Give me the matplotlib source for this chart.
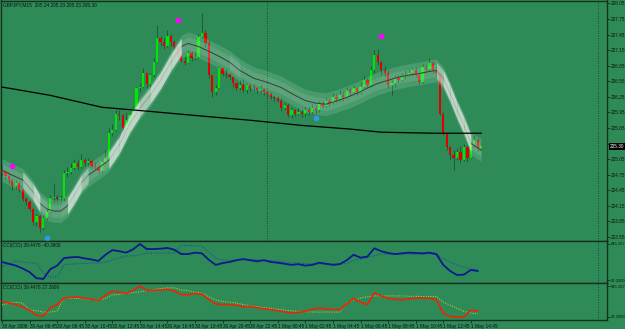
import matplotlib
matplotlib.use("Agg")
import matplotlib.pyplot as plt
import matplotlib.transforms as mtransforms
from matplotlib.patches import Rectangle
import numpy as np
import logging
logging.getLogger("matplotlib.font_manager").setLevel(logging.ERROR)

# ---------------- data ----------------
title_text = "GBPJPY,M15  205.24 205.33 205.23 205.30"
open_first = 204.84
close = [204.80, 204.72, 204.65, 204.53, 204.59, 204.45, 204.28, 204.22, 204.09, 203.84,
         203.95, 203.72, 203.92, 204.03, 204.30, 204.32, 204.28, 204.30, 204.78, 204.80,
         204.88, 204.97, 204.90, 205.03, 204.97, 205.01, 204.92, 204.90, 204.82, 204.99,
         205.07, 205.55, 205.61, 205.93, 205.90, 205.65, 205.80, 205.90, 206.01, 206.42,
         206.45, 206.72, 206.49, 206.67, 206.92, 207.38, 207.30, 207.24, 207.43, 207.30,
         207.22, 207.05, 206.95, 206.90, 207.09, 206.99, 207.01, 207.40, 207.49, 207.28,
         206.67, 206.34, 206.43, 206.80, 206.70, 206.67, 206.63, 206.51, 206.42, 206.47,
         206.38, 206.47, 206.42, 206.43, 206.38, 206.40, 206.34, 206.30, 206.24, 206.22,
         206.18, 206.03, 206.09, 205.90, 205.99, 205.93, 205.95, 205.92, 205.99, 205.95,
         206.03, 205.99, 206.11, 206.07, 206.17, 206.13, 206.24, 206.20, 206.28, 206.24,
         206.38, 206.34, 206.42, 206.34, 206.45, 206.57, 206.47, 206.76, 207.05, 206.92,
         206.76, 206.72, 206.47, 206.51, 206.61, 206.57, 206.65, 206.67, 206.72, 206.76,
         206.67, 206.53, 206.82, 206.78, 206.90, 206.76, 206.72, 205.93, 205.55, 205.28,
         205.13, 205.07, 205.18, 205.03, 205.28, 205.07, 205.32, 205.42, 205.26, 205.30]
high = [204.93, 204.84, 204.80, 204.68, 204.65, 204.61, 204.49, 204.32, 204.26, 204.11,
        203.99, 203.99, 203.97, 204.11, 204.36, 204.59, 204.36, 204.36, 204.84, 204.90,
        204.97, 205.05, 205.03, 205.15, 205.07, 205.07, 205.03, 204.97, 204.95, 205.07,
        205.22, 205.65, 205.72, 205.99, 205.99, 205.93, 205.95, 205.95, 206.07, 206.45,
        206.51, 206.80, 206.72, 206.72, 206.99, 207.63, 207.43, 207.38, 207.53, 207.47,
        207.34, 207.24, 207.03, 207.01, 207.15, 207.13, 207.11, 207.47, 207.86, 207.53,
        207.34, 206.68, 206.47, 206.84, 206.82, 206.78, 206.72, 206.63, 206.51, 206.57,
        206.59, 206.51, 206.49, 206.49, 206.45, 206.47, 206.42, 206.38, 206.34, 206.28,
        206.26, 206.22, 206.13, 206.13, 206.03, 206.01, 206.03, 205.99, 206.07, 206.05,
        206.11, 206.09, 206.18, 206.17, 206.24, 206.22, 206.32, 206.30, 206.38, 206.34,
        206.45, 206.43, 206.47, 206.45, 206.53, 206.65, 206.61, 206.84, 207.15, 207.18,
        206.95, 206.84, 206.76, 206.57, 206.67, 206.68, 206.72, 206.76, 206.78, 206.80,
        206.82, 206.68, 206.88, 206.86, 206.99, 206.95, 206.84, 206.72, 205.95, 205.55,
        205.30, 205.22, 205.26, 205.30, 205.34, 205.32, 205.36, 205.51, 205.45, 205.36]
low = [204.72, 204.67, 204.59, 204.45, 204.47, 204.42, 204.24, 204.17, 204.05, 203.78,
       203.76, 203.65, 203.68, 203.88, 203.99, 204.22, 204.22, 204.24, 204.24, 204.70,
       204.76, 204.86, 204.84, 204.88, 204.92, 204.92, 204.86, 204.84, 204.76, 204.78,
       204.95, 205.03, 205.49, 205.59, 205.80, 205.57, 205.65, 205.74, 205.93, 205.99,
       206.34, 206.45, 206.42, 206.42, 206.63, 206.92, 207.24, 207.18, 207.22, 207.24,
       207.18, 206.99, 206.92, 206.86, 206.95, 206.95, 206.97, 206.99, 207.38, 207.22,
       206.61, 206.24, 206.28, 206.42, 206.65, 206.61, 206.57, 206.45, 206.38, 206.38,
       206.34, 206.32, 206.36, 206.38, 206.32, 206.34, 206.28, 206.24, 206.20, 206.17,
       206.15, 205.97, 205.99, 205.86, 205.84, 205.88, 205.90, 205.86, 205.88, 205.90,
       205.92, 205.93, 205.95, 206.03, 206.05, 206.07, 206.11, 206.15, 206.17, 206.18,
       206.20, 206.28, 206.32, 206.28, 206.30, 206.42, 206.42, 206.45, 206.72, 206.86,
       206.67, 206.65, 206.42, 206.28, 206.45, 206.51, 206.55, 206.59, 206.65, 206.67,
       206.63, 206.49, 206.51, 206.72, 206.76, 206.72, 206.65, 205.90, 205.51, 205.22,
       205.03, 204.84, 205.03, 204.97, 205.01, 204.99, 205.07, 205.28, 205.20, 205.22]

ma_long_bars = [0, 14, 29, 43, 58, 72, 87, 101, 110, 125, 139]
ma_long = [206.44, 206.28, 206.05, 205.97, 205.88, 205.80, 205.70, 205.63, 205.57, 205.55, 205.55]

band_bars = [0, 3, 6, 9, 11, 13, 15, 17, 19, 21, 23, 25, 28, 31, 34, 37, 40, 43, 46, 49,
             52, 54, 57, 60, 63, 66, 69, 73, 77, 81, 85, 88, 91, 94, 97, 100, 103, 106, 109, 112,
             115, 118, 121, 124, 126, 128, 130, 132, 134, 136, 139]
band_mid = [204.84, 204.74, 204.65, 204.42, 204.20, 204.09, 204.05, 204.05, 204.15, 204.36,
            204.59, 204.74, 204.88, 205.03, 205.32, 205.72, 206.03, 206.28, 206.57, 206.92,
            207.22, 207.28, 207.22, 207.13, 207.03, 206.92, 206.76, 206.61, 206.53, 206.43,
            206.28, 206.18, 206.13, 206.11, 206.17, 206.24, 206.32, 206.42, 206.51, 206.57,
            206.63, 206.67, 206.70, 206.74, 206.76, 206.61, 206.32, 205.99, 205.70, 205.36,
            205.22]

top_sig_bars = [3, 51, 110]
top_sig_price = [204.92, 207.74, 207.42]
bot_sig_bars = [13, 91]
bot_sig_price = [203.53, 205.84]

price_ticks = [208.05, 207.75, 207.45, 207.15, 206.85, 206.55, 206.25, 205.95, 205.65,
               205.35, 205.05, 204.75, 204.45, 204.15, 203.85, 203.55]
price_tick_labels = ["208.05", "207.75", "207.45", "207.15", "206.85", "206.55", "206.25",
                     "205.95", "205.65", "205.35", "205.05", "204.75", "204.45", "204.15",
                     "203.85", "203.55"]
last_price_label = "205.30"

time_tick_bars = [0, 8, 16, 24, 32, 40, 48, 56, 64, 72, 80, 88, 96, 104, 112, 120, 128, 136]
time_tick_labels = ["30 Apr 2008", "30 Apr 06:45", "30 Apr 08:45", "30 Apr 10:45",
                    "30 Apr 12:45", "30 Apr 14:45", "30 Apr 16:45", "30 Apr 18:45",
                    "30 Apr 20:45", "30 Apr 22:45", "1 May 00:45", "1 May 02:45",
                    "1 May 04:45", "1 May 06:45", "1 May 08:45", "1 May 10:45",
                    "1 May 12:45", "1 May 14:45"]
day_separator_bar = 77
shift_bar = 172.9

ind_bars = list(range(0, 140, 2))
cci1_main = [333.7, 302.6, 271.5, 221.6, 159.3, 53.5, 41.0, 209.2, 271.5, 402.3,
             414.7, 420.9, 396.0, 377.3, 352.4, 458.3, 539.3, 520.6, 495.7, 551.7,
             645.157, 558.0, 558.0, 564.2, 576.6, 545.5, 470.8, 470.8, 495.7, 483.2,
             371.1, 283.9, 315.1, 333.7, 364.9, 383.6, 364.9, 346.2, 364.9, 333.7,
             321.3, 302.6, 283.9, 296.4, 271.5, 283.9, 321.3, 302.6, 283.9, 296.4,
             364.9, 458.3, 408.5, 427.2, 570.4, 520.6, 489.4, 470.8, 483.2, 495.7,
             489.4, 483.2, 495.7, 470.8, 283.9, 178.0, 109.5, 115.7, 196.7, 178.0]
cci1_sig = [246.5, 302.6, 352.4, 333.7, 315.1, 315.1, 146.9, 72.1, 72.1, 283.9,
            296.4, 302.6, 308.8, 315.1, 315.1, 333.7, 371.1, 408.5, 439.6, 439.6,
            458.3, 489.4, 489.4, 489.4, 489.4, 489.4, 626.5, 620.3, 614.0, 607.8,
            508.1, 396.0, 364.9, 364.9, 371.1, 377.3, 377.3, 371.1, 364.9, 358.7,
            346.2, 333.7, 321.3, 315.1, 308.8, 302.6, 302.6, 302.6, 302.6, 302.6,
            302.6, 364.9, 383.6, 408.5, 445.9, 470.8, 470.8, 470.8, 470.8, 470.8,
            470.8, 470.8, 470.8, 470.8, 396.0, 333.7, 283.9, 246.5, 209.2, 209.2]
cci2_main = [333.7, 302.6, 271.5, 221.6, 159.3, 53.5, 41.0, 209.2, 271.5, 402.3,
             414.7, 420.9, 396.0, 377.3, 352.4, 458.3, 539.3, 520.6, 495.7, 551.7,
             645.157, 558.0, 558.0, 564.2, 576.6, 545.5, 470.8, 470.8, 495.7, 483.2,
             371.1, 283.9, 271.5, 271.5, 259.0, 227.9, 234.1, 209.2, 184.3, 171.8,
             146.9, 122.0, 103.3, 115.7, 134.4, 178.0, 202.9, 184.3, 171.8, 165.6,
             283.9, 396.0, 321.3, 271.5, 508.1, 445.9, 396.0, 377.3, 364.9, 383.6,
             402.3, 402.3, 396.0, 371.1, 97.1, 34.8, 22.32, 28.5, 159.3, 140.7]
cci2_sig = [265.2, 296.4, 321.3, 302.6, 165.6, 146.9, 122.0, 122.0, 146.9, 402.3,
            396.0, 396.0, 383.6, 371.1, 364.9, 396.0, 464.5, 477.0, 495.7, 514.4,
            526.8, 551.7, 570.4, 595.3, 607.8, 607.8, 564.2, 551.7, 520.6, 501.9,
            427.2, 364.9, 333.7, 321.3, 302.6, 271.5, 246.5, 227.9, 209.2, 196.7,
            178.0, 159.3, 146.9, 134.4, 128.2, 122.0, 122.0, 122.0, 122.0, 122.0,
            302.6, 364.9, 402.3, 427.2, 445.9, 445.9, 445.9, 445.9, 445.9, 439.6,
            439.6, 433.4, 433.4, 433.4, 321.3, 259.0, 196.7, 134.4, 103.3, 84.6]
sub_ticks = [22.32, 645.157]
sub_tick_labels = ["22.3200", "645.157"]
sub1_title = "CCI(CCI) 39.4476 -40.3600"
sub2_title = "CCI(CCI) 39.4476 27.2609"

# ---------------- style ----------------
BG = "#2e8b57"
FRAME = "#15301f"
UP = "#00e600"
DN = "#e00000"
WICK = "#1f5a34"
TXT = "#0a140d"
FAM = ["Liberation Sans Narrow", "Liberation Sans", "DejaVu Sans"]
FS = 3.4
plt.rcParams["font.family"] = FAM

W, H = 625, 329
def rect(x0, y0, x1, y1):
    return [x0 / W, 1 - y1 / H, (x1 - x0) / W, (y1 - y0) / H]

fig = plt.figure(figsize=(W / 100, H / 100), dpi=100)
fig.patch.set_facecolor(BG)
ax = fig.add_axes(rect(0.5, 0.5, 607, 241))
ax1 = fig.add_axes(rect(0.5, 241, 607, 283), sharex=ax)
ax2 = fig.add_axes(rect(0.5, 283, 607, 320), sharex=ax)

for a in (ax, ax1, ax2):
    a.set_facecolor(BG)
    for s in a.spines.values():
        s.set_color(FRAME)
        s.set_linewidth(1.0)
    a.yaxis.tick_right()
    a.tick_params(axis="y", length=2, width=0.6, colors=FRAME, labelcolor=TXT,
                  labelsize=FS, pad=1, direction="out")
    a.tick_params(axis="x", length=2, width=0.6, colors=FRAME, labelcolor=TXT,
                  labelsize=FS, pad=1, direction="out")
    a.axvline(shift_bar, color=FRAME, lw=0.6, ls=(0, (1, 2)), zorder=1)

# ---------------- main chart ----------------
n = len(close)
opens = [open_first] + close[:-1]
xs = np.arange(n)
lo = np.minimum.reduce([np.array(low), np.array(opens), np.array(close)])
hi = np.maximum.reduce([np.array(high), np.array(opens), np.array(close)])
ax.vlines(xs, lo, hi, color=WICK, lw=0.7, zorder=2)
for i in range(n):
    o, c = opens[i], close[i]
    col = UP if c >= o else DN
    ax.add_patch(Rectangle((i - 0.33, min(o, c)), 0.66, max(abs(c - o), 0.01),
                           facecolor=col, edgecolor="none", zorder=3))

bb = np.array(band_bars, dtype=float)
bm = np.array(band_mid)
ax.fill_between(bb, bm - 0.22, bm + 0.22, color="white", alpha=0.13, lw=0, zorder=4)
ax.fill_between(bb, bm - 0.12, bm + 0.12, color="white", alpha=0.10, lw=0, zorder=4)
ax.plot(bb, bm, color="#3b3b3b", lw=0.7, zorder=5)
slopes = np.diff(bm) / np.diff(bb)
for k, s in enumerate(slopes):
    al = float(np.clip((abs(s) - 0.045) / 0.05, 0, 1)) * 0.7
    if al > 0:
        ax.fill_between(bb[k:k + 2], bm[k:k + 2] - 0.16, bm[k:k + 2] + 0.16,
                        color="#e8eee8", alpha=al, lw=0, zorder=6)

ax.plot(ma_long_bars, ma_long, color="black", lw=0.9, zorder=7)
ax.plot(top_sig_bars, top_sig_price, "o", color="#ff00ff", ms=4, mec="none", zorder=8)
ax.plot(bot_sig_bars, bot_sig_price, "o", color="#2f9be8", ms=4, mec="none", zorder=8)
ax.axvline(day_separator_bar, color=FRAME, lw=0.6, ls=(0, (1, 2)), zorder=1)

y_top = 208.05 + 3 / 52
y_bot = 208.05 - 238 / 52
ax.set_ylim(y_bot, y_top)
ax.set_xlim(-0.43, 175.5)
# the last-price box hides the tick label it sits on
shown_labels = [lab if abs(t - close[-1]) > 0.08 else "" for t, lab in
                zip(price_ticks, price_tick_labels)]
ax.set_yticks(price_ticks, shown_labels)
ax.tick_params(axis="x", bottom=False, labelbottom=False)
ax.text(0.004, 0.992, title_text, transform=ax.transAxes, fontsize=FS,
        va="top", ha="left", color=TXT)
tr = mtransforms.blended_transform_factory(ax.transAxes, ax.transData)
ax.text(1.005, close[-1], last_price_label, transform=tr, fontsize=FS, color="white",
        va="center", ha="left", clip_on=False, zorder=20,
        bbox=dict(boxstyle="square,pad=0.2", fc="black", ec="none"))

# ---------------- sub windows ----------------
ib = np.array(ind_bars)
ax1.plot(ib, cci1_sig, color="#1a3da8", lw=0.7, ls=(0, (1, 1.5)), zorder=3)
ax1.plot(ib, cci1_main, color="#0b1a8c", lw=1.3, zorder=4)
ax2.plot(ib, cci2_sig, color="#cbd63a", lw=0.7, ls=(0, (1, 1.5)), zorder=3)
ax2.plot(ib, cci2_main, color="#ff1a00", lw=1.1, zorder=4)

ax1.set_ylim(22.32 - 0.083 * 622.84, 22.32 + 1.083 * 622.84)
ax2.set_ylim(22.32 - 0.097 * 622.84, 22.32 + 1.097 * 622.84)
for a, t in ((ax1, sub1_title), (ax2, sub2_title)):
    a.set_yticks(sub_ticks, sub_tick_labels)
    a.tick_params(axis="y", labelsize=3.0, pad=0.5)
    a.text(0.004, 0.95, t, transform=a.transAxes, fontsize=FS, va="top",
           ha="left", color=TXT)
ax1.tick_params(axis="x", bottom=False, labelbottom=False)
ax2.set_xticks(time_tick_bars, time_tick_labels)
for lab in ax2.get_xticklabels():
    lab.set_ha("left")

fig.savefig("out.png", dpi=100, facecolor=BG)
